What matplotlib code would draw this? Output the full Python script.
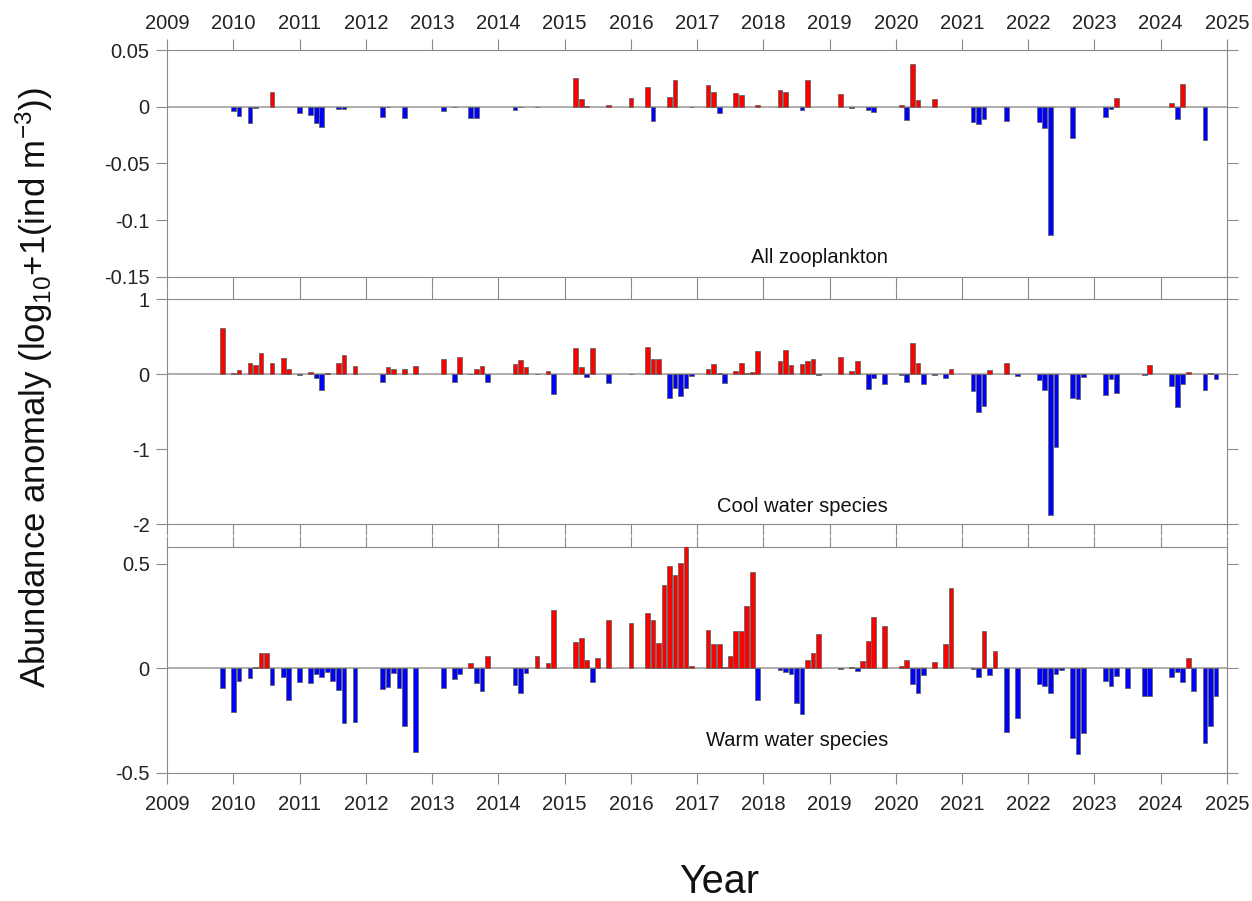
import numpy as np
import matplotlib.pyplot as plt
from matplotlib.ticker import FormatStrFormatter

plt.rcParams['font.family'] = ['Liberation Sans', 'DejaVu Sans']
plt.rcParams['mathtext.default'] = 'regular'
plt.rcParams['axes.unicode_minus'] = False

# Monthly abundance anomalies, log10(x+1) (ind m-3), per group

zoo_months = ['2010-01', '2010-02', '2010-04', '2010-05', '2010-08', '2011-01', '2011-03',
              '2011-04', '2011-05', '2011-08', '2011-09', '2012-04', '2012-05', '2012-08',
              '2013-03', '2013-05', '2013-08', '2013-09', '2014-04', '2014-05', '2014-08',
              '2015-03', '2015-04', '2015-05', '2015-09', '2016-01', '2016-04', '2016-05',
              '2016-08', '2016-09', '2016-12', '2017-03', '2017-04', '2017-05', '2017-08',
              '2017-09', '2017-12', '2018-04', '2018-05', '2018-08', '2018-09', '2019-03',
              '2019-05', '2019-08', '2019-09', '2020-02', '2020-03', '2020-04', '2020-05',
              '2020-08', '2021-03', '2021-04', '2021-05', '2021-09', '2022-03', '2022-04',
              '2022-05', '2022-09', '2023-03', '2023-04', '2023-05', '2024-03', '2024-04',
              '2024-05', '2024-09']
zoo_values = [-0.0035, -0.0082, -0.0141, -0.0015, 0.0129, -0.0053, -0.0076,
              -0.0147, -0.0182, -0.002, -0.002, -0.0091, -0.0005, -0.0097,
              -0.0038, -0.0006, -0.0103, -0.0103, -0.0032, -0.0005, -0.0003,
              0.025, 0.0071, 0.0009, 0.0018, 0.0076, 0.0176, -0.0124,
              0.0085, 0.0235, 0.0002, 0.0194, 0.0129, -0.0059, 0.0121,
              0.0106, 0.0015, 0.015, 0.0126, -0.0026, 0.0232, 0.0109,
              -0.0012, -0.0032, -0.0047, 0.0018, -0.0115, 0.0374, 0.0059,
              0.0065, -0.0135, -0.015, -0.0106, -0.0124, -0.0135, -0.0185,
              -0.1132, -0.0276, -0.0094, -0.002, 0.0076, 0.0032, -0.0106,
              0.02, -0.0294]

cool_months = ['2009-11', '2010-01', '2010-02', '2010-04', '2010-05', '2010-06', '2010-08',
               '2010-10', '2010-11', '2011-01', '2011-03', '2011-04', '2011-05', '2011-06',
               '2011-08', '2011-09', '2011-11', '2012-04', '2012-05', '2012-06', '2012-08',
               '2012-10', '2013-03', '2013-05', '2013-06', '2013-08', '2013-09', '2013-10',
               '2013-11', '2014-04', '2014-05', '2014-06', '2014-08', '2014-10', '2014-11',
               '2015-03', '2015-04', '2015-05', '2015-06', '2015-09', '2016-01', '2016-04',
               '2016-05', '2016-06', '2016-08', '2016-09', '2016-10', '2016-11', '2016-12',
               '2017-03', '2017-04', '2017-05', '2017-06', '2017-08', '2017-09', '2017-10',
               '2017-11', '2017-12', '2018-04', '2018-05', '2018-06', '2018-08', '2018-09',
               '2018-10', '2018-11', '2019-03', '2019-05', '2019-06', '2019-08', '2019-09',
               '2019-11', '2020-02', '2020-03', '2020-04', '2020-05', '2020-06', '2020-08',
               '2020-10', '2020-11', '2021-03', '2021-04', '2021-05', '2021-06', '2021-09',
               '2021-11', '2022-03', '2022-04', '2022-05', '2022-06', '2022-09', '2022-10',
               '2022-11', '2023-03', '2023-04', '2023-05', '2023-10', '2023-11', '2024-03',
               '2024-04', '2024-05', '2024-06', '2024-09', '2024-10', '2024-11']
cool_values = [0.613, 0.01, 0.053, 0.142, 0.124, 0.28, 0.151,
               0.218, 0.067, -0.005, 0.031, -0.049, -0.218, 0.018,
               0.151, 0.253, 0.107, -0.111, 0.093, 0.062, 0.062,
               0.111, 0.204, -0.102, 0.222, 0.005, 0.071, 0.111,
               -0.107, 0.133, 0.191, 0.098, 0.003, 0.036, -0.271,
               0.351, 0.098, -0.036, 0.351, -0.116, 0.003, 0.356,
               0.204, 0.2, -0.32, -0.187, -0.293, -0.182, -0.022,
               0.062, 0.133, 0.009, -0.12, 0.04, 0.147, 0.009,
               0.027, 0.311, 0.178, 0.316, 0.124, 0.129, 0.169,
               0.196, -0.013, 0.231, 0.036, 0.178, -0.2, -0.058,
               -0.133, -0.013, -0.111, 0.413, 0.151, -0.129, -0.005,
               -0.053, 0.067, -0.231, -0.502, -0.427, 0.053, 0.142,
               -0.022, -0.084, -0.218, -1.871, -0.973, -0.316, -0.329,
               -0.044, -0.284, -0.071, -0.258, -0.018, 0.124, -0.164,
               -0.44, -0.129, 0.027, -0.209, 0.018, -0.062]

warm_months = ['2009-11', '2010-01', '2010-02', '2010-04', '2010-05', '2010-06', '2010-07',
               '2010-08', '2010-10', '2010-11', '2011-01', '2011-03', '2011-04', '2011-05',
               '2011-06', '2011-07', '2011-08', '2011-09', '2011-11', '2012-04', '2012-05',
               '2012-06', '2012-07', '2012-08', '2012-10', '2013-03', '2013-05', '2013-06',
               '2013-08', '2013-09', '2013-10', '2013-11', '2014-04', '2014-05', '2014-06',
               '2014-08', '2014-10', '2014-11', '2015-03', '2015-04', '2015-05', '2015-06',
               '2015-07', '2015-09', '2016-01', '2016-04', '2016-05', '2016-06', '2016-07',
               '2016-08', '2016-09', '2016-10', '2016-11', '2016-12', '2017-03', '2017-04',
               '2017-05', '2017-06', '2017-07', '2017-08', '2017-09', '2017-10', '2017-11',
               '2017-12', '2018-04', '2018-05', '2018-06', '2018-07', '2018-08', '2018-09',
               '2018-10', '2018-11', '2019-03', '2019-05', '2019-06', '2019-07', '2019-08',
               '2019-09', '2019-11', '2020-02', '2020-03', '2020-04', '2020-05', '2020-06',
               '2020-08', '2020-10', '2020-11', '2021-03', '2021-04', '2021-05', '2021-06',
               '2021-07', '2021-09', '2021-11', '2022-03', '2022-04', '2022-05', '2022-06',
               '2022-07', '2022-09', '2022-10', '2022-11', '2023-03', '2023-04', '2023-05',
               '2023-07', '2023-10', '2023-11', '2024-03', '2024-04', '2024-05', '2024-06',
               '2024-07', '2024-09', '2024-10', '2024-11']
warm_values = [-0.093, -0.208, -0.062, -0.048, 0.008, 0.072, 0.072,
               -0.078, -0.04, -0.152, -0.067, -0.07, -0.026, -0.042,
               -0.018, -0.059, -0.102, -0.264, -0.257, -0.1, -0.089,
               -0.021, -0.094, -0.275, -0.401, -0.093, -0.053, -0.026,
               0.026, -0.072, -0.107, 0.061, -0.081, -0.117, -0.024,
               0.059, 0.024, 0.281, 0.126, 0.144, 0.038, -0.064,
               0.051, 0.23, 0.219, 0.267, 0.23, 0.121, 0.398,
               0.489, 0.447, 0.503, 0.6, 0.011, 0.182, 0.118,
               0.117, 0.008, 0.058, 0.177, 0.179, 0.297, 0.463,
               -0.152, -0.008, -0.019, -0.027, -0.165, -0.219, 0.042,
               0.073, 0.166, -0.002, 0.008, -0.013, 0.034, 0.131,
               0.244, 0.204, 0.011, 0.04, -0.077, -0.117, -0.034,
               0.032, 0.118, 0.383, -0.002, -0.042, 0.181, -0.034,
               0.085, -0.307, -0.24, -0.075, -0.083, -0.117, -0.026,
               -0.006, -0.334, -0.411, -0.312, -0.059, -0.083, -0.038,
               -0.093, -0.133, -0.133, -0.042, -0.018, -0.065, 0.05,
               -0.11, -0.359, -0.275, -0.131]

panel_names = ['All zooplankton', 'Cool water species', 'Warm water species']
years = list(range(2009, 2026))


def month_to_year(months):

    """ Turns 'YYYY-MM' strings into decimal years. """

    yr = np.array([int(m[:4]) for m in months])
    mo = np.array([int(m[5:]) for m in months])
    return yr + (mo - 1) / 12.0


panels = [
    (zoo_months, zoo_values, (-0.15, 0.05), [-0.15, -0.1, -0.05, 0, 0.05], 0.084),
    (cool_months, cool_values, (-2, 1), [-2, -1, 0, 1], 0.078),
    (warm_months, warm_values, (-0.5, 0.58), [-0.5, 0, 0.5], 0.145),
]

# axes boxes in figure fractions, top to bottom
boxes = [[0.1336, 0.6926, 0.8464, 0.2519],
         [0.1336, 0.4181, 0.8464, 0.2500],
         [0.1336, 0.1424, 0.8464, 0.2502]]

edge = '#8a8a8a'
fig = plt.figure(figsize=(12.52, 9.01), dpi=100)

for i, (months, vals, ylim, yticks, label_y) in enumerate(panels):
    ax = fig.add_axes(boxes[i])
    x = month_to_year(months)
    vals = np.array(vals)
    colors = np.where(vals >= 0, '#ff0000', '#0000ff')

    ax.axhline(0, color='#a8a8a8', lw=1.3, zorder=1)
    ax.bar(x, vals, width=0.85 / 12, color=colors, edgecolor='#666666',
           linewidth=0.6, zorder=3)

    ax.set_xlim(2009, 2025)
    ax.set_ylim(*ylim)
    ax.set_xticks(years)
    ax.set_yticks(yticks)
    ax.yaxis.set_major_formatter(FormatStrFormatter('%g'))

    ax.tick_params(direction='out', length=7.7, width=0.8, color=edge,
                   top=True, right=True, labelsize=14.5, labelcolor='#222222',
                   labelbottom=(i == 2), labeltop=(i == 0))
    # top year labels sit closer to their ticks than the bottom ones
    ax.tick_params(axis='x', pad=4.5 if i == 0 else 8)
    ax.tick_params(axis='y', pad=5)
    for sp in ax.spines.values():
        sp.set_color(edge)
        sp.set_linewidth(0.8)

    ax.text(0.68, label_y, panel_names[i], transform=ax.transAxes,
            ha='right', va='center', fontsize=14.5, color='#111111')

fig.text(34 / 1252, 1 - 387 / 901,
         'Abundance anomaly (log$_{10}$+1(ind m$^{-3}$))',
         rotation=90, ha='center', va='center', fontsize=25, color='#111111')
fig.text(719 / 1252, 1 - 882 / 901, 'Year', ha='center', va='center',
         fontsize=28.5, color='#111111')

fig.savefig('out.png', dpi=100)
